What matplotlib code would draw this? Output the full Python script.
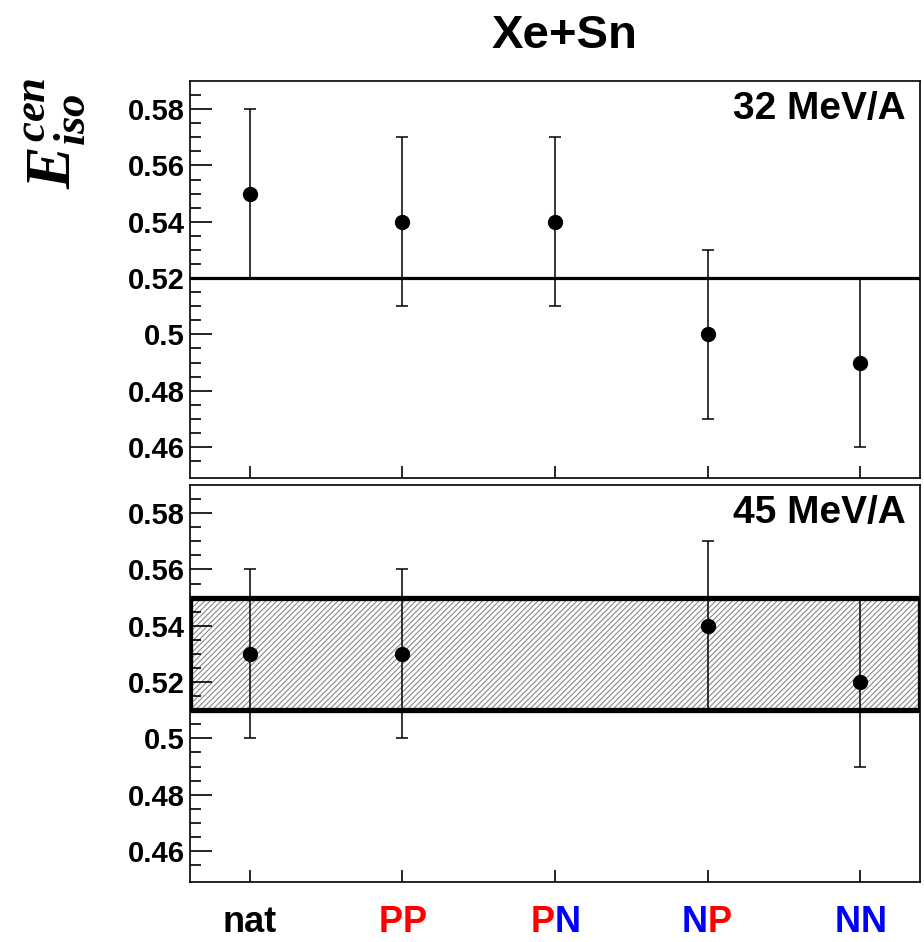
import matplotlib
matplotlib.use('Agg')
import matplotlib.pyplot as plt
from matplotlib.transforms import blended_transform_factory
import numpy as np

plt.rcParams['font.family'] = ['Liberation Sans', 'DejaVu Sans']
plt.rcParams['font.weight'] = 'bold'
plt.rcParams['mathtext.fontset'] = 'custom'
plt.rcParams['mathtext.it'] = 'Liberation Serif:italic:bold'
plt.rcParams['mathtext.rm'] = 'Liberation Serif:bold'
plt.rcParams['hatch.linewidth'] = 0.8

# categories and colours of each letter in the tick labels
categories = ['nat', 'PP', 'PN', 'NP', 'NN']
label_colors = [['black'], ['red', 'red'], ['red', 'blue'],
                ['blue', 'red'], ['blue', 'blue']]

# 32 MeV/A
e32 = [0.55, 0.54, 0.54, 0.50, 0.49]
err32 = [0.03, 0.03, 0.03, 0.03, 0.03]
ref32 = 0.52

# 45 MeV/A (no PN point)
cat45 = ['nat', 'PP', 'NP', 'NN']
e45 = [0.53, 0.53, 0.54, 0.52]
err45 = [0.03, 0.03, 0.03, 0.03]
band45 = (0.51, 0.55)

ylim = (0.449, 0.59)
xlim = (-0.39, 4.39)


def style_axis(ax):
    ax.set_xlim(*xlim)
    ax.set_ylim(*ylim)
    ax.set_xticks(range(len(categories)))
    ax.set_xticklabels([])
    major = np.round(np.arange(0.46, 0.585, 0.02), 2)
    ax.set_yticks(major)
    ax.set_yticks(np.arange(0.455, 0.59, 0.005), minor=True)
    ax.set_yticklabels(['%g' % v for v in major])
    ax.tick_params(axis='y', which='major', direction='in', length=16, width=1.2,
                   labelsize=21, pad=4)
    ax.tick_params(axis='y', which='minor', direction='in', length=8, width=1.2)
    ax.tick_params(axis='x', which='major', direction='in', length=9, width=1.2)
    for s in ax.spines.values():
        s.set_linewidth(1.2)


fig = plt.figure(figsize=(9.24, 9.42), dpi=100)
left, width, height = 190 / 924, 730 / 924, 397 / 942
ax1 = fig.add_axes([left, 1 - 478 / 942, width, height])
ax2 = fig.add_axes([left, 1 - 882 / 942, width, height])

for ax in (ax1, ax2):
    style_axis(ax)

# top panel
x32 = [categories.index(c) for c in categories]
ax1.axhline(ref32, color='black', lw=2.3, zorder=2)
ax1.errorbar(x32, e32, yerr=err32, fmt='o', color='black', ms=10,
             elinewidth=1.1, capsize=4.5, capthick=1.1, zorder=3)
ax1.text(0.98, 0.93, '32 MeV/A', transform=ax1.transAxes, ha='right',
         va='center', fontsize=28, fontweight='bold')

# bottom panel
ax2.axhspan(band45[0], band45[1], facecolor='white', edgecolor='#888888',
            hatch='//////', lw=0, zorder=1)
ax2.axhspan(band45[0], band45[1], fill=False, edgecolor='black', lw=3.8,
            zorder=2)
x45 = [categories.index(c) for c in cat45]
ax2.errorbar(x45, e45, yerr=err45, fmt='o', color='black', ms=10,
             elinewidth=1.1, capsize=4.5, capthick=1.1, zorder=3)
ax2.text(0.98, 0.93, '45 MeV/A', transform=ax2.transAxes, ha='right',
         va='center', fontsize=28, fontweight='bold')

# coloured category labels
trans = blended_transform_factory(ax2.transData, fig.transFigure)
ylab = 1 - 922 / 942
for i, (name, cols) in enumerate(zip(categories, label_colors)):
    if len(cols) == 1:
        ax2.text(i, ylab, name, transform=trans, ha='center', va='center',
                 fontsize=26, fontweight='bold', color=cols[0])
    else:
        ax2.text(i, ylab, name[0], transform=trans, ha='right', va='center',
                 fontsize=26, fontweight='bold', color=cols[0])
        ax2.text(i, ylab, name[1], transform=trans, ha='left', va='center',
                 fontsize=26, fontweight='bold', color=cols[1])

fig.text(565 / 924, 1 - 36 / 942, 'Xe+Sn', ha='center', va='center',
         fontsize=34, fontweight='bold')
fig.text(55 / 924, 1 - 133 / 942, r'$E_{iso}^{cen}$', rotation=90,
         ha='center', va='center', fontsize=46)

fig.savefig('out.png', dpi=100)
